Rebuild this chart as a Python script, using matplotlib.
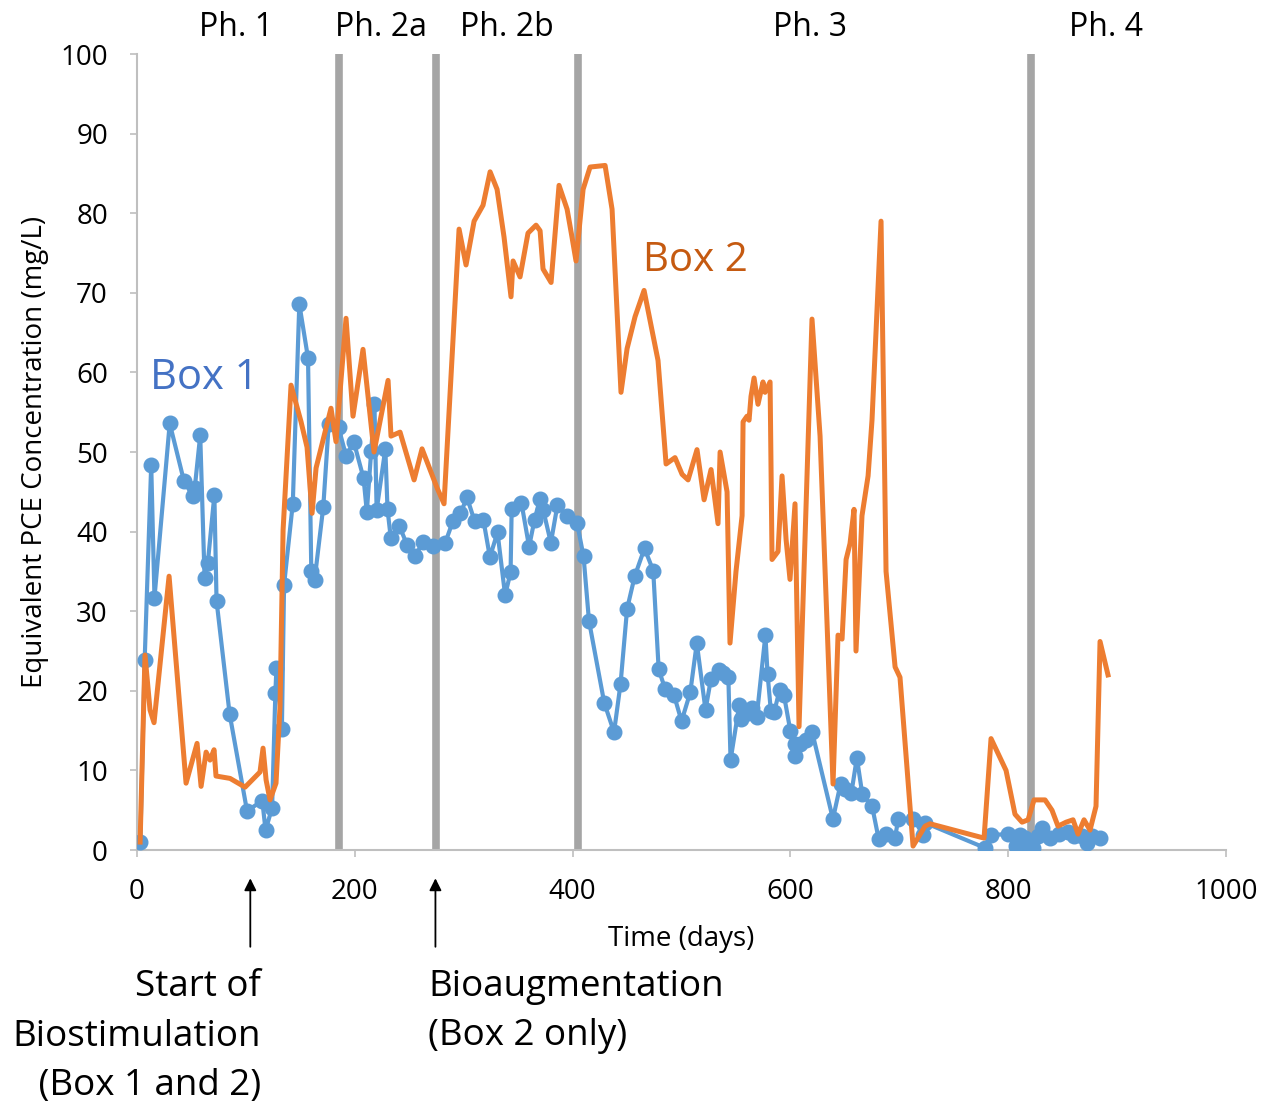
import matplotlib.pyplot as plt

plt.rcParams['font.family'] = ['Open Sans', 'DejaVu Sans']

# Box 1 (blue, with markers)
box1_day = [3, 7, 13, 16, 30, 43, 51, 53, 58, 62, 65, 71, 73, 85, 101, 115, 118, 124, 127, 128,
            133, 135, 143, 149, 157, 160, 163, 171, 176, 185, 192, 199, 208, 211, 215, 218, 220,
            228, 230, 233, 241, 248, 255, 263, 272, 283, 290, 297, 303, 310, 318, 324, 331, 338,
            343, 344, 353, 360, 365, 370, 373, 380, 386, 395, 404, 410, 415, 429, 438, 444, 450,
            457, 466, 474, 479, 485, 493, 500, 508, 514, 522, 527, 534, 538, 543, 545, 553, 555,
            561, 565, 569, 577, 579, 582, 585, 590, 594, 600, 604, 604, 609, 614, 620, 639, 646,
            650, 656, 661, 666, 675, 681, 688, 696, 699, 713, 722, 724, 779, 784, 800, 807, 811,
            815, 819, 823, 827, 831, 838, 847, 855, 860, 868, 872, 877, 884]
box1_conc = [1.0, 23.9, 48.4, 31.7, 53.6, 46.4, 44.5, 45.5, 52.1, 34.2, 36.1, 44.6, 31.3, 17.1,
             4.9, 6.2, 2.5, 5.3, 19.7, 22.9, 15.2, 33.3, 43.5, 68.6, 61.8, 35.1, 33.9, 43.1, 53.5,
             53.1, 49.5, 51.3, 46.7, 42.5, 50.1, 56.0, 42.7, 50.4, 42.8, 39.2, 40.7, 38.3, 36.9,
             38.7, 38.2, 38.6, 41.3, 42.3, 44.3, 41.3, 41.5, 36.8, 39.9, 32.0, 34.9, 42.8, 43.6,
             38.1, 41.5, 44.1, 42.7, 38.6, 43.3, 42.0, 41.1, 36.9, 28.8, 18.5, 14.8, 20.9, 30.3,
             34.4, 37.9, 35.1, 22.7, 20.2, 19.5, 16.2, 19.8, 26.0, 17.6, 21.5, 22.6, 22.2, 21.7,
             11.3, 18.2, 16.5, 17.2, 17.8, 16.7, 27.0, 22.1, 17.5, 17.3, 20.1, 19.5, 14.9, 13.3,
             11.8, 13.3, 13.8, 14.8, 3.9, 8.3, 7.7, 7.2, 11.6, 7.0, 5.5, 1.4, 2.0, 1.5, 3.9, 3.9,
             1.9, 3.4, 0.25, 1.9, 2.0, 0.5, 1.9, 1.5, 0.5, 0.3, 1.8, 2.8, 1.5, 2.0, 2.3, 1.8, 1.8,
             0.9, 1.8, 1.5]

box2_px = [140, 145, 150, 154, 169, 186, 197, 201, 206, 210, 214, 216, 230, 245, 260, 263, 266,
           270, 276, 280, 283, 291, 301, 307, 312, 316, 331, 336, 346, 353, 363, 374, 388, 391,
           400, 414, 422, 437, 444, 459, 466, 474, 483, 490, 497, 504, 511, 513, 520, 528, 536,
           540, 543, 551, 559, 567, 572, 576, 583, 590, 605, 612, 621, 627, 635, 644, 650, 658,
           666, 675, 682, 688, 697, 704, 711, 718, 720, 727, 730, 736, 742, 743, 747, 749, 751,
           754, 758, 763, 765, 770, 772, 778, 782, 786, 790, 795, 799, 806, 812, 820, 833, 838,
           842, 846, 850, 854, 856, 862, 868, 872, 881, 886, 895, 900, 913, 925, 930, 984, 991,
           1006, 1015, 1022, 1028, 1034, 1045, 1052, 1058, 1066, 1073, 1078, 1084, 1090, 1096,
           1100, 1108]
box2_day = [round((p - 137) / 1.089, 1) for p in box2_px]
box2_conc = [1.0, 24.5, 17.6, 16.0, 34.4, 8.4, 13.4, 8.0, 12.3, 11.3, 12.6, 9.3, 9.0, 7.9, 9.8,
             12.8, 8.8, 6.3, 8.4, 18.1, 40.2, 58.4, 53.8, 50.6, 42.3, 48.0, 55.5, 51.3, 66.8, 54.5,
             62.9, 50.0, 59.0, 52.0, 52.5, 46.5, 50.4, 45.5, 43.5, 78.0, 73.5, 79.0, 81.0, 85.2,
             83.0, 77.0, 69.5, 74.0, 72.0, 77.5, 78.5, 77.8, 73.0, 71.3, 83.5, 80.5, 77.0, 74.0,
             83.0, 85.8, 86.0, 80.5, 57.5, 63.0, 67.0, 70.3, 66.5, 61.5, 48.5, 49.3, 47.2, 46.5,
             50.3, 44.0, 47.8, 41.0, 50.0, 45.0, 26.0, 35.0, 42.0, 53.8, 54.5, 54.0, 57.0, 59.3,
             56.0, 58.8, 57.5, 58.8, 36.5, 37.5, 47.0, 39.0, 34.0, 43.5, 15.5, 43.0, 66.7, 52.0,
             8.3, 27.0, 26.5, 36.5, 38.5, 42.8, 25.0, 42.0, 47.0, 54.0, 79.0, 35.0, 23.0, 21.7,
             0.5, 3.0, 3.3, 1.5, 14.0, 10.0, 4.5, 3.5, 3.8, 6.3, 6.3, 5.0, 3.0, 3.5, 3.8, 2.0,
             3.8, 2.5, 5.5, 26.2, 22.0]

phase_bounds = [185.5, 274.5, 405, 821]
phase_labels = ['Ph. 1', 'Ph. 2a', 'Ph. 2b', 'Ph. 3', 'Ph. 4']
phase_label_x = [91, 224, 340, 618, 890]

fig = plt.figure(figsize=(12.62, 11.09), dpi=100)
ax = fig.add_axes([0.1086, 0.2335, 0.8629, 0.7178])

for b in phase_bounds:
    ax.axvline(b, color='#a5a5a5', linewidth=5.5, zorder=1)

ax.plot(box1_day, box1_conc, color='#5b9bd5', linewidth=3, marker='o', markersize=10.5,
        zorder=3)
ax.plot(box2_day, box2_conc, color='#ed7d31', linewidth=3.6, zorder=4)

ax.set_xlim(0, 1000)
ax.set_ylim(0, 100)
ax.set_xticks(range(0, 1001, 200))
ax.set_yticks(range(0, 101, 10))
ax.tick_params(labelsize=20, color='#bfbfbf', length=5, width=1.2)
ax.tick_params(axis='y', pad=16)
ax.tick_params(axis='x', pad=15)
for s in ['top', 'right']:
    ax.spines[s].set_visible(False)
for s in ['left', 'bottom']:
    ax.spines[s].set_color('#bfbfbf')
    ax.spines[s].set_linewidth(1.5)

ax.set_xlabel('Time (days)', fontsize=20, labelpad=14)
ax.set_ylabel('Equivalent PCE Concentration (mg/L)', fontsize=20, labelpad=8)

for lab, xp in zip(phase_labels, phase_label_x):
    ax.text(xp, 103.3, lab, fontsize=23, ha='center', va='center')

ax.text(12, 59.3, 'Box 1', fontsize=30, color='#4472c4', ha='left', va='center')
ax.text(465, 74, 'Box 2', fontsize=29, color='#c55a11', ha='left', va='center')

ax.annotate('', xy=(104, -3.2), xytext=(104, -12.5), annotation_clip=False,
            arrowprops=dict(arrowstyle='-|>', color='black', lw=1.3, mutation_scale=18))
ax.annotate('', xy=(274, -3.2), xytext=(274, -12.5), annotation_clip=False,
            arrowprops=dict(arrowstyle='-|>', color='black', lw=1.3, mutation_scale=18))

fig.text(261 / 1262, 1 - 969 / 1109, 'Start of\nBiostimulation\n (Box 1 and 2)', fontsize=26.5,
         ha='right', va='top', multialignment='right', linespacing=1.5)
fig.text(428 / 1262, 1 - 969 / 1109, 'Bioaugmentation\n(Box 2 only)', fontsize=26.5,
         ha='left', va='top', multialignment='left', linespacing=1.5)

fig.savefig('out.png', dpi=100)
